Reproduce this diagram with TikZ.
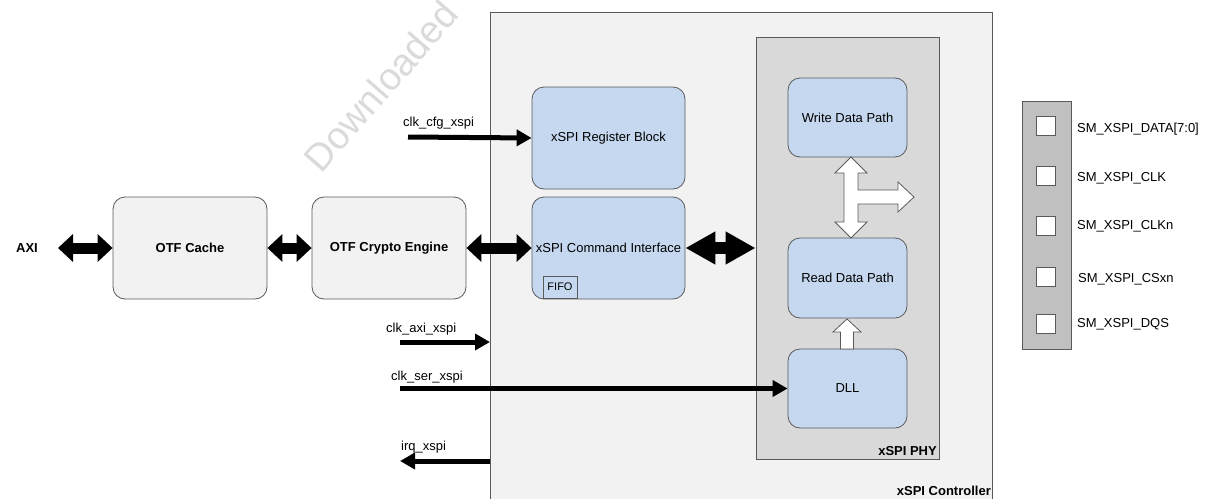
\documentclass[tikz,border=0pt]{standalone}
\usepackage{fontspec}
\setmainfont{Liberation Sans}
\usetikzlibrary{arrows.meta,calc}
\definecolor{bluefill}{HTML}{C5D8EF}
\definecolor{lightfill}{HTML}{F2F2F2}
\definecolor{phyfill}{HTML}{D9D9D9}
\definecolor{pinfill}{HTML}{C0C0C0}
\definecolor{edge}{HTML}{5A5A5A}
\definecolor{wmark}{HTML}{DADADA}
\begin{document}
\begin{tikzpicture}[x=1pt,y=-1pt,
  every node/.style={font=\fontsize{13}{15}\selectfont, inner sep=0pt},
  blockbox/.style={draw=edge, line width=0.8pt, rounded corners=12pt, fill=bluefill, align=center},
  otfbox/.style={draw=edge, line width=0.8pt, rounded corners=12pt, fill=lightfill, align=center, font=\fontsize{13}{15}\selectfont\bfseries},
  fatarrow/.style={line width=11pt, {Triangle[length=15pt,width=27pt]}-{Triangle[length=15pt,width=27pt]}},
  bigfatarrow/.style={line width=12pt, {Triangle[length=30pt,width=31pt]}-{Triangle[length=30pt,width=31pt]}},
  sigarrow/.style={line width=5pt, -{Triangle[length=15pt,width=16pt]}},
  siglabel/.style={anchor=west},
  pinsq/.style={draw=edge, line width=0.8pt, fill=white, minimum width=19pt, minimum height=19pt},
  pinlabel/.style={anchor=west},
  titlelabel/.style={anchor=east, font=\fontsize{13}{15}\selectfont\bfseries},
  whitearrow/.style={draw=edge, line width=0.8pt, fill=white, line join=miter}
]
\useasboundingbox (0,0) rectangle (1206,498);

% watermark
\node[rotate=49, text=wmark, font=\fontsize{38}{40}\selectfont] (wm) at (381,86) {Downloaded};

% controller
\fill[lightfill] (490,12) rectangle (992,499);
\draw[edge, line width=0.8pt] (490,499) -- (490,12) -- (992,12) -- (992,499);
\node[titlelabel] (ctrllabel) at (991,491) {xSPI Controller};

% PHY
\draw[edge, line width=0.8pt, fill=phyfill] (756,37) rectangle (939,459);
\node[titlelabel] (phylabel) at (937,451) {xSPI PHY};

% blocks
\node[blockbox, minimum width=153pt, minimum height=102pt] (reg) at (608.5,138) {xSPI Register Block};
\node[blockbox, minimum width=153pt, minimum height=102pt] (cmd) at (608.5,248) {xSPI Command Interface};
\node[draw=edge, line width=0.8pt, fill=bluefill, minimum width=34pt, minimum height=22pt, font=\fontsize{11}{13}\selectfont] (fifo) at (560,287) {FIFO};

\node[otfbox, minimum width=154pt, minimum height=102pt] (cache) at (190,248) {OTF Cache};
\node[otfbox, minimum width=154pt, minimum height=102pt] (crypto) at (389,248) {OTF Crypto Engine};
\node[font=\fontsize{13}{15}\selectfont\bfseries] (axi) at (27,248) {AXI};

\node[blockbox, minimum width=119pt, minimum height=79pt] (wdp) at (847.5,117.5) {Write Data Path};
\node[blockbox, minimum width=119pt, minimum height=80pt] (rdp) at (847.5,278) {Read Data Path};
\node[blockbox, minimum width=119pt, minimum height=79pt] (dll) at (847.5,388.5) {DLL};

% fat black arrows
\coordinate (axiend) at (58,248);
\coordinate (phyin) at (755.5,248);
\draw[fatarrow] (axiend) -- (cache.west);
\draw[fatarrow] (cache.east) -- (crypto.west);
\draw[fatarrow] (crypto.east) -- (cmd.west);
\draw[bigfatarrow] (cmd.east) -- (phyin);

% white arrows inside PHY
\draw[whitearrow] (851,157) -- (867,173) -- (858,173) -- (858,190) -- (898,190) -- (898,182)
  -- (914,197) -- (898,212) -- (898,204) -- (858,204) -- (858,222) -- (867,222) -- (851,238)
  -- (835,222) -- (844,222) -- (844,173) -- (835,173) -- cycle;
\draw[whitearrow] (847,319) -- (861,332) -- (853.5,332) -- (853.5,349) -- (840.5,349) -- (840.5,332) -- (833,332) -- cycle;

% signals
\node[siglabel] (cfglabel) at (403,123) {clk\_cfg\_xspi};
\coordinate (cfgstart) at (408,137);
\draw[sigarrow] (cfgstart) -- (reg.west);

\node[siglabel] (axilabel) at (386,329) {clk\_axi\_xspi};
\coordinate (axiclkstart) at (400,342);
\coordinate (axiclkend) at (490,342);
\draw[sigarrow] (axiclkstart) -- (axiclkend);

\node[siglabel] (serlabel) at (391,377) {clk\_ser\_xspi};
\coordinate (serstart) at (400,388.5);
\draw[sigarrow] (serstart) -- (dll.west);

\node[siglabel] (irqlabel) at (401,447) {irq\_xspi};
\coordinate (irqstart) at (490,461);
\coordinate (irqend) at (400,461);
\draw[sigarrow] (irqstart) -- (irqend);

% pins
\draw[edge, line width=0.8pt, fill=pinfill] (1022,101) rectangle (1071,349);
\node[pinsq] (p1) at (1045.5,126) {};
\node[pinsq] (p2) at (1045.5,176) {};
\node[pinsq] (p3) at (1045.5,226) {};
\node[pinsq] (p4) at (1045.5,277) {};
\node[pinsq] (p5) at (1045.5,324) {};
\node[pinlabel] (l1) at (1077,129) {SM\_XSPI\_DATA[7:0]};
\node[pinlabel] (l2) at (1077,178) {SM\_XSPI\_CLK};
\node[pinlabel] (l3) at (1077,226) {SM\_XSPI\_CLKn};
\node[pinlabel] (l4) at (1078,279) {SM\_XSPI\_CSxn};
\node[pinlabel] (l5) at (1077,324) {SM\_XSPI\_DQS};
\end{tikzpicture}
\end{document}
